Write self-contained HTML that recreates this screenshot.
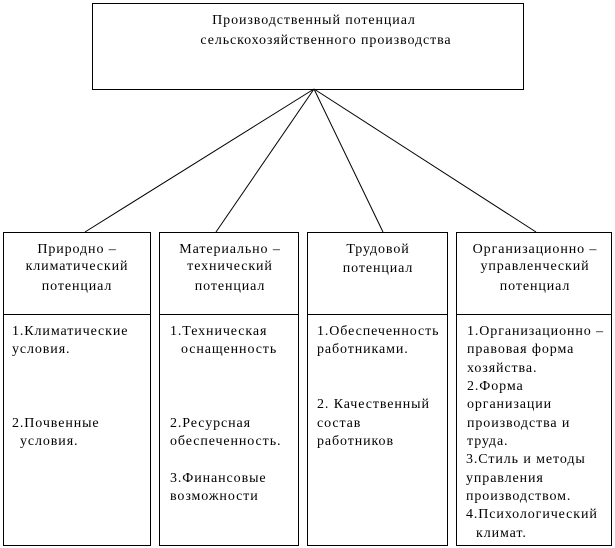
<!DOCTYPE html>
<html><head><meta charset="utf-8"><style>
html,body{margin:0;padding:0;background:#fff;}
svg{display:block;}
text{font-family:"Liberation Serif","Noto Serif CJK SC",serif;font-size:14px;letter-spacing:0.9px;fill:#000;}
</style></head><body>
<svg width="615" height="548" viewBox="0 0 615 548" xmlns="http://www.w3.org/2000/svg">
<g fill="none" stroke="#000" stroke-width="1">
<rect x="92.5" y="3.5" width="431" height="86"/>
<line x1="314" y1="89" x2="85" y2="232"/>
<line x1="314" y1="89" x2="216" y2="232"/>
<line x1="314" y1="89" x2="383" y2="232"/>
<line x1="314" y1="89" x2="536" y2="232"/>
<rect x="3.5" y="232.5" width="147" height="313"/>
<rect x="159.5" y="232.5" width="139" height="313"/>
<rect x="307.5" y="232.5" width="140" height="313"/>
<rect x="456.5" y="232.5" width="155" height="313"/>
<line x1="3" y1="314.5" x2="151" y2="314.5"/>
<line x1="159" y1="314.5" x2="299" y2="314.5"/>
<line x1="307" y1="314.5" x2="448" y2="314.5"/>
<line x1="456" y1="314.5" x2="612" y2="314.5"/>
</g>
<text x="314" y="24" text-anchor="middle">Производственный потенциал</text>
<text x="326" y="44" text-anchor="middle">сельскохозяйственного производства</text>

<text x="77" y="253" text-anchor="middle">Природно –</text>
<text x="77" y="270" text-anchor="middle">климатический</text>
<text x="77" y="290" text-anchor="middle">потенциал</text>
<text x="12" y="335">1.Климатические</text>
<text x="12" y="353">условия.</text>
<text x="12" y="427">2.Почвенные</text>
<text x="20" y="445">условия.</text>

<text x="230" y="253" text-anchor="middle">Материально –</text>
<text x="230" y="270" text-anchor="middle">технический</text>
<text x="230" y="290" text-anchor="middle">потенциал</text>
<text x="170" y="335">1.Техническая</text>
<text x="181" y="353">оснащенность</text>
<text x="170" y="427">2.Ресурсная</text>
<text x="170" y="445">обеспеченность.</text>
<text x="170" y="482">3.Финансовые</text>
<text x="170" y="500">возможности</text>

<text x="378" y="253" text-anchor="middle">Трудовой</text>
<text x="378" y="272" text-anchor="middle">потенциал</text>
<text x="317" y="335">1.Обеспеченность</text>
<text x="317" y="353">работниками.</text>
<text x="317" y="408">2. Качественный</text>
<text x="317" y="427">состав</text>
<text x="317" y="445">работников</text>

<text x="535" y="253" text-anchor="middle">Организационно –</text>
<text x="535" y="270" text-anchor="middle">управленческий</text>
<text x="535" y="290" text-anchor="middle">потенциал</text>
<text x="467" y="335">1.Организационно –</text>
<text x="467" y="353">правовая форма</text>
<text x="467" y="372">хозяйства.</text>
<text x="467" y="390">2.Форма</text>
<text x="467" y="408">организации</text>
<text x="467" y="427">производства и</text>
<text x="467" y="445">труда.</text>
<text x="466" y="463">3.Стиль и методы</text>
<text x="466" y="482">управления</text>
<text x="466" y="500">производством.</text>
<text x="466" y="518">4.Психологический</text>
<text x="476" y="537">климат.</text>
</svg>
</body></html>
